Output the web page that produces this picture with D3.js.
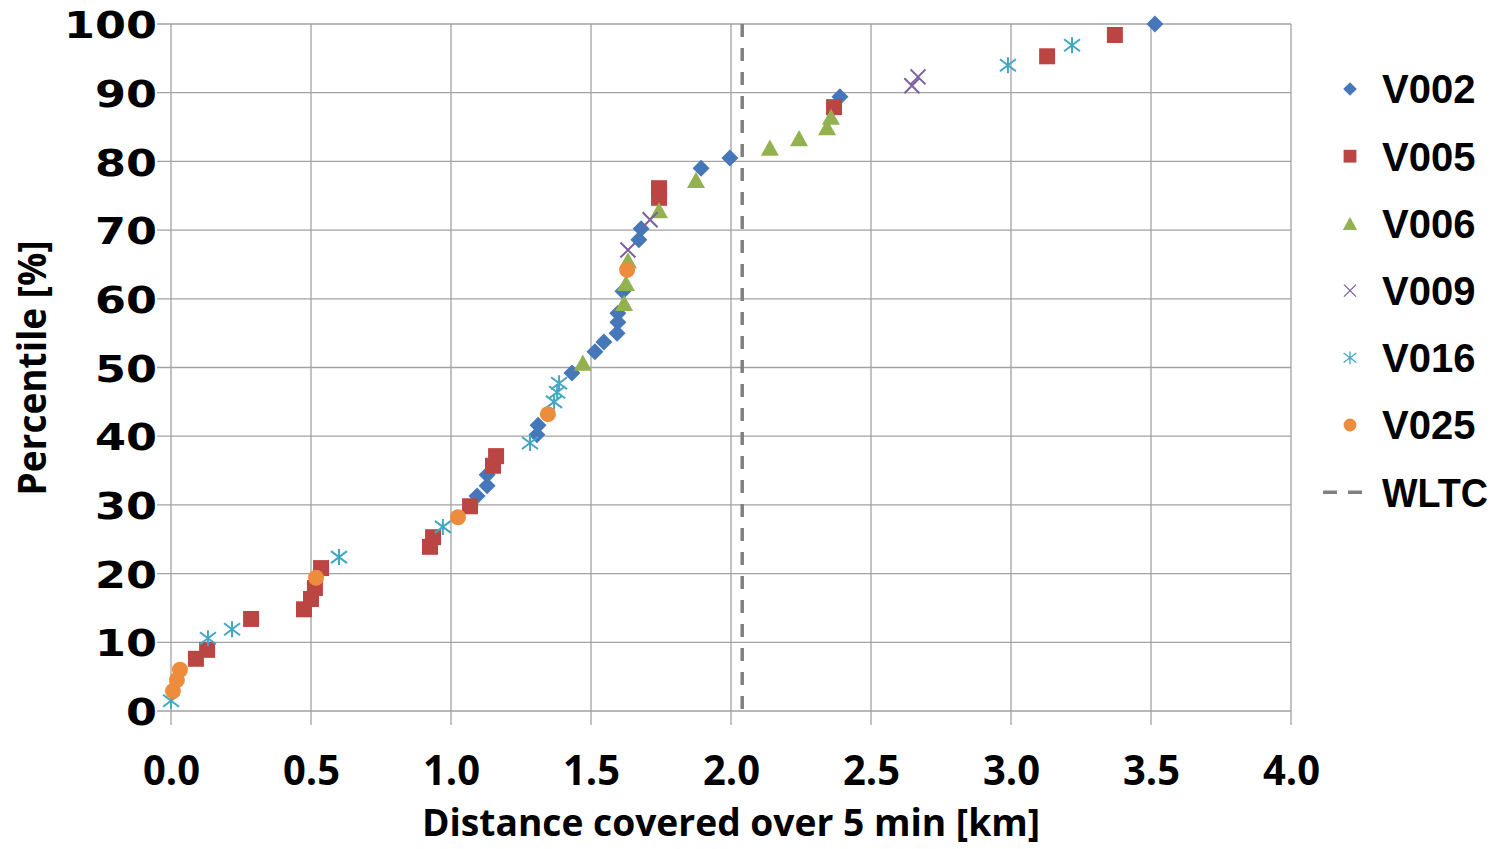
<!DOCTYPE html>
<html><head><meta charset="utf-8">
<script src="https://cdn.jsdelivr.net/npm/d3@7"></script>
<style>body{margin:0;background:#fff;}svg{display:block;}</style>
</head><body><svg id="c" width="1497" height="849"></svg>
<script>
const seriesNames = ["V002","V005","V006","V009","V016","V025"];
const V002_x = [3.514,2.389,1.996,1.893,1.679,1.671,1.614,1.596,1.596,1.593,1.546,1.514,1.432,1.311,1.307,1.129,1.129,1.093];
const V002_y = [100,89.4,80.5,79.0,70.2,68.6,61.1,57.9,56.6,55.0,53.7,52.3,49.2,41.6,40.2,34.4,32.8,31.3];
const V005_x = [3.371,3.129,2.368,1.743,1.743,1.161,1.150,1.068,0.936,0.925,0.536,0.514,0.500,0.475,0.286,0.129,0.089];
const V005_y = [98.4,95.3,87.9,76.1,74.7,37.1,35.7,29.8,25.3,23.9,20.8,17.9,16.3,14.8,13.4,8.9,7.6];
const V006_x = [2.357,2.343,2.243,2.139,1.875,1.743,1.632,1.625,1.618,1.471];
const V006_y = [86.5,85.0,83.4,82.0,77.3,72.9,65.6,62.3,59.4,50.7];
const V009_x = [2.646,2.668,1.711,1.632];
const V009_y = [91.0,92.3,71.5,67.1];
const V016_x = [2.989,3.218,0.600,0.218,0.132,0.000,0.971,1.282,1.386,1.379,1.368];
const V016_y = [94.0,96.9,22.4,11.9,10.6,1.5,26.8,39.0,47.7,46.4,45.0];
const V025_x = [1.629,1.346,1.025,0.518,0.032,0.021,0.007];
const V025_y = [64.2,43.2,28.2,19.4,6.0,4.5,2.9];
const WLTC_x = 2.04;
const xTicks = [0,0.5,1,1.5,2,2.5,3,3.5,4];
const yTicks = [0,10,20,30,40,50,60,70,80,90,100];
const xTitle = "Distance covered over 5 min [km]";
const yTitle = "Percentile [%]";

const colors = {V002:"#4677B8",V005:"#BA4542",V006:"#93B24F",V009:"#7D60A0",V016:"#43A6C2",V025:"#EE8C3E"};
const seriesData = {
  V002: V002_x.map((x,i)=>({x,y:V002_y[i]})),
  V005: V005_x.map((x,i)=>({x,y:V005_y[i]})),
  V006: V006_x.map((x,i)=>({x,y:V006_y[i]})),
  V009: V009_x.map((x,i)=>({x,y:V009_y[i]})),
  V016: V016_x.map((x,i)=>({x,y:V016_y[i]})),
  V025: V025_x.map((x,i)=>({x,y:V025_y[i]}))
};

// custom symbol types (size = half-width in px)
const sDiamond = {draw(c,s){c.moveTo(0,-s);c.lineTo(s,0);c.lineTo(0,s);c.lineTo(-s,0);c.closePath();}};
const sSquare = {draw(c,s){c.rect(-s,-s,2*s,2*s);}};
const sTriangle = {draw(c,s){const h=s*1.8;c.moveTo(0,-h/2);c.lineTo(s,h/2);c.lineTo(-s,h/2);c.closePath();}};
const sCircle = {draw(c,s){c.moveTo(s,0);c.arc(0,0,s,0,2*Math.PI);}};
const sX = {draw(c,s){c.moveTo(-s,-s);c.lineTo(s,s);c.moveTo(s,-s);c.lineTo(-s,s);}};
const sStar = {draw(c,s){c.moveTo(-s,-s*0.75);c.lineTo(s,s*0.75);c.moveTo(s,-s*0.75);c.lineTo(-s,s*0.75);c.moveTo(0,-s);c.lineTo(0,s);}};
const symbols = {V002:[sDiamond,8.5,true],V005:[sSquare,8,true],V006:[sTriangle,9,true],V009:[sX,7.5,false],V016:[sStar,8,false],V025:[sCircle,8,true]};

const svg = d3.select("#c");
const L=171,R=1291,T=24,B=711;
const x = d3.scaleLinear().domain([0,4]).range([L,R]);
const y = d3.scaleLinear().domain([0,100]).range([B,T]);
const gridColor="#A2A2A2";

// grid
svg.append("g").selectAll("line").data(yTicks).join("line")
  .attr("x1",L-14).attr("x2",R).attr("y1",d=>y(d)).attr("y2",d=>y(d))
  .attr("stroke",gridColor).attr("stroke-width",1.3);
svg.append("g").selectAll("line").data(xTicks).join("line")
  .attr("y1",T).attr("y2",B+14).attr("x1",d=>x(d)).attr("x2",d=>x(d))
  .attr("stroke",gridColor).attr("stroke-width",1.3);

// axes labels via d3 axes
const tickFont = "'DejaVu Sans', Verdana, sans-serif";
const narrowFont = "'Open Sans', 'Noto Sans', sans-serif";
const gx = svg.append("g").attr("transform",`translate(0,${B})`)
  .call(d3.axisBottom(x).tickValues(xTicks).tickFormat(d3.format(".1f")).tickSize(0).tickPadding(74));
gx.select(".domain").remove();
gx.selectAll("text").attr("font-family",narrowFont).attr("font-weight","bold").attr("font-size",42).attr("fill","#000").attr("dy",0)
  .attr("textLength",57).attr("lengthAdjust","spacingAndGlyphs");
const gy = svg.append("g").attr("transform",`translate(${L},0)`)
  .call(d3.axisLeft(y).tickValues(yTicks).tickFormat(d3.format("d")).tickSize(0).tickPadding(14));
gy.select(".domain").remove();
gy.selectAll("text").attr("font-family",tickFont).attr("font-weight","bold").attr("font-size",38).attr("fill","#000").attr("dy","0.36em")
  .attr("textLength",function(){return this.textContent.length*31;}).attr("lengthAdjust","spacingAndGlyphs");

// WLTC line
svg.append("line").attr("x1",x(WLTC_x)).attr("x2",x(WLTC_x)).attr("y1",T).attr("y2",B)
  .attr("stroke","#808080").attr("stroke-width",3.5).attr("stroke-dasharray","13,11");

// points
seriesNames.forEach(name=>{
  const [type,size,filled]=symbols[name];
  svg.append("g").selectAll("path").data(seriesData[name]).join("path")
    .attr("transform",d=>`translate(${x(d.x)},${y(d.y)})`)
    .attr("d",d3.symbol().type(type).size(size))
    .attr("fill",filled?colors[name]:"none")
    .attr("stroke",colors[name]).attr("stroke-width",filled?0:2);
});

// axis titles
svg.append("text").attr("x",(422+1040)/2).attr("y",836).attr("text-anchor","middle")
  .attr("font-family",narrowFont).attr("font-weight","bold").attr("font-size",38)
  .attr("textLength",618).attr("lengthAdjust","spacingAndGlyphs").text(xTitle);
svg.append("text").attr("transform","translate(46,368) rotate(-90)").attr("text-anchor","middle")
  .attr("font-family",narrowFont).attr("font-weight","bold").attr("font-size",40)
  .attr("textLength",255).attr("lengthAdjust","spacingAndGlyphs").text(yTitle);

// legend
const legendItems = seriesNames.concat(["WLTC"]);
const lg = svg.append("g");
legendItems.forEach((name,i)=>{
  const cy = 89 + i*67.2;
  if(name==="WLTC"){
    lg.append("line").attr("x1",1323).attr("x2",1366).attr("y1",cy).attr("y2",cy)
      .attr("stroke","#808080").attr("stroke-width",3.5).attr("stroke-dasharray","14,11");
  } else {
    const [type,size,filled]=symbols[name];
    lg.append("path").attr("transform",`translate(1350,${cy})`)
      .attr("d",d3.symbol().type(type).size(size*0.8))
      .attr("fill",filled?colors[name]:"none").attr("stroke",colors[name]).attr("stroke-width",filled?0:1.3);
  }
  const t = lg.append("text").attr("x",1382).attr("y",cy).attr("dy","0.36em")
    .attr("font-family","'Liberation Sans', Arial, sans-serif").attr("font-weight","bold").attr("font-size",40)
    .text(name);
  if(name==="WLTC") t.attr("textLength",106).attr("lengthAdjust","spacingAndGlyphs");
});
</script></body></html>
